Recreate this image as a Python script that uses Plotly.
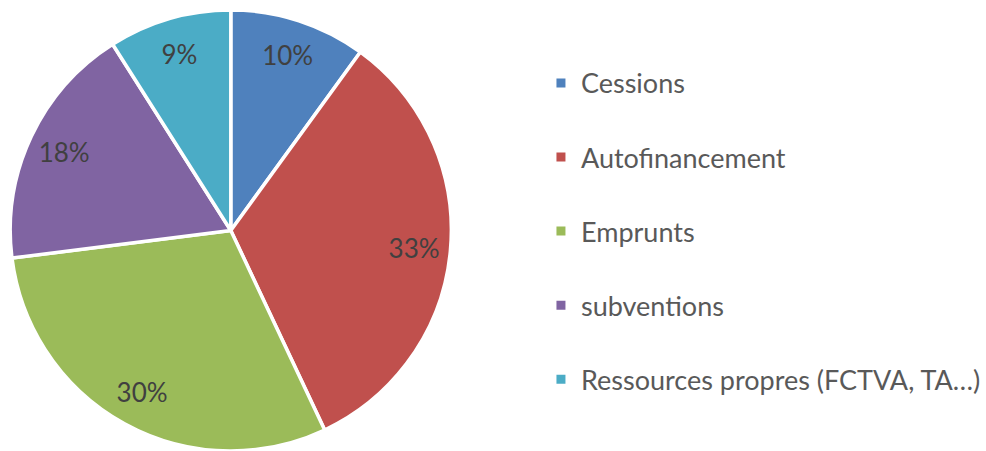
import plotly.graph_objects as go

categories = ["Cessions", "Autofinancement", "Emprunts", "subventions", "Ressources propres (FCTVA, TA…)"]
values = [10, 33, 30, 18, 9]
colors = ["#4F81BD", "#C0504D", "#9BBB59", "#8064A2", "#4BACC6"]

FONT = "Lato"
DOMAIN = dict(x=[0.009, 0.462], y=[0.0, 0.978])

fig = go.Figure()
# filled pie (no text)
fig.add_trace(go.Pie(
    labels=categories, values=values, sort=False, direction="clockwise", rotation=0,
    marker=dict(colors=colors, line=dict(color="white", width=3.5)),
    textinfo="none", showlegend=False, hoverinfo="label+percent",
    domain=DOMAIN,
))
# transparent ring carrying the percent labels at ~0.83 radius
fig.add_trace(go.Pie(
    labels=categories, values=values, sort=False, direction="clockwise", rotation=0,
    hole=0.67,
    marker=dict(colors=["rgba(0,0,0,0)"] * len(values), line=dict(width=0)),
    textinfo="percent", textposition="inside", insidetextorientation="horizontal",
    texttemplate="%{percent:.0%}",
    textfont=dict(family=FONT, size=26, color="#404040"),
    showlegend=False, hoverinfo="skip",
    domain=DOMAIN,
))

for c, col in zip(categories, colors):
    fig.add_trace(go.Scatter(
        x=[None], y=[None], mode="markers", name=c, legendgroup=c,
        marker=dict(symbol="square", size=9, color=col),
    ))

fig.update_layout(
    width=986, height=451, margin=dict(l=0, r=0, t=0, b=0),
    paper_bgcolor="white", plot_bgcolor="white",
    xaxis=dict(visible=False), yaxis=dict(visible=False),
    legend=dict(x=0.552, y=0.487, xanchor="left", yanchor="middle",
                font=dict(family=FONT, size=27, color="#595959"),
                tracegroupgap=36, traceorder="grouped", itemwidth=30,
                bgcolor="rgba(0,0,0,0)"),
)

fig.write_html("out.html", config={"displayModeBar": False},
               post_script="document.body.style.margin='0';")
